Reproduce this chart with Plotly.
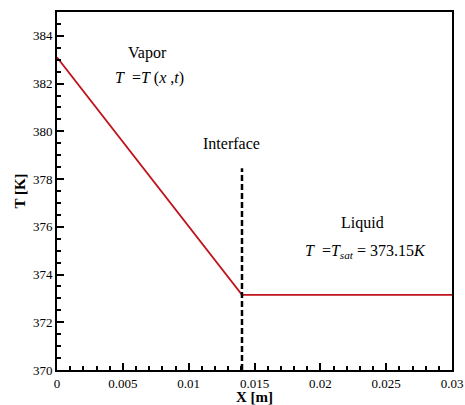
import plotly.graph_objects as go

x_vals = [0.0, 0.01405, 0.03]
t_vals = [383.1, 373.15, 373.15]
interface_x = [0.01405, 0.01405]
interface_y = [370.0, 378.45]

fig = go.Figure()
fig.add_trace(go.Scatter(x=x_vals, y=t_vals, mode="lines",
                         line=dict(color="#c0141c", width=1.8), showlegend=False))
fig.add_trace(go.Scatter(x=interface_x, y=interface_y, mode="lines",
                         line=dict(color="black", width=2.5, dash="6px,3px"), showlegend=False))

font = "Liberation Serif, Times New Roman, serif"
ann = dict(showarrow=False, font=dict(family=font, size=16, color="black"))
fig.add_annotation(x=0.0069, y=383.3, text="Vapor", **ann)
fig.add_annotation(x=0.007, y=382.25, text="<i>T</i>  =<i>T</i> (<i>x</i> ,<i>t</i>)", **ann)
fig.add_annotation(x=0.01326, y=379.5, text="Interface", **ann)
fig.add_annotation(x=0.0232, y=376.17, text="Liquid", **ann)
fig.add_annotation(x=0.0234, y=374.96,
                   text="<i>T</i>  =<i>T</i><sub><i>sat</i></sub> = 373.15<i>K</i>", **ann)

axis_common = dict(showgrid=False, zeroline=False, showline=True, linecolor="black",
                   linewidth=2, mirror=True, ticks="inside", ticklen=7, tickwidth=1.5,
                   tickcolor="black", automargin=False, ticklabeloverflow="allow",
                   tickfont=dict(family=font, size=13, color="black"))
fig.update_xaxes(range=[0, 0.03], tickvals=[0, 0.005, 0.01, 0.015, 0.02, 0.025, 0.03],
                 ticktext=["0", "0.005", "0.01", "0.015", "0.02", "0.025", "0.03"],
                 minor=dict(ticks="inside", dtick=0.001, ticklen=4, tickcolor="black"),
                 title=dict(text="<b>X [m]</b>", font=dict(family=font, size=15, color="black"),
                            standoff=4),
                 **axis_common)
fig.update_yaxes(range=[370, 385], tickvals=[370, 372, 374, 376, 378, 380, 382, 384],
                 minor=dict(ticks="inside", dtick=0.5, ticklen=4, tickcolor="black"),
                 title=dict(text="<b>T [K]</b>", font=dict(family=font, size=15, color="black"),
                            standoff=4),
                 **axis_common)
fig.update_layout(width=465, height=405, plot_bgcolor="white", paper_bgcolor="white",
                  margin=dict(l=57, r=13, t=12, b=35))
# remove the page's default body margin so the figure fills the window exactly
fig.write_html("out.html", config={"displayModeBar": False},
               post_script="document.body.style.margin='0';document.body.style.overflow='hidden';")
